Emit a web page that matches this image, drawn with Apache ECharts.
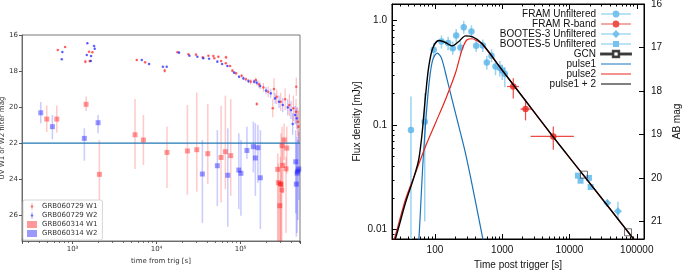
<!DOCTYPE html>
<html lang="en">
<head>
<meta charset="UTF-8">
<title>GRB light curves</title>
<script src="https://cdn.jsdelivr.net/npm/echarts@6/dist/echarts.min.js"></script>
</head>
<body style="margin:0">
<div id="main" style="width:685px;height:271px;"></div>
<script>
// ---- left panel: UVOT magnitudes ----
// [time s, mag, err]
const w1_060729 = [[667,16.83,0.05],[815,16.67,0.05],[1572,16.93,0.05],[1721,16.96,0.05],[1420,17.48,0.1],[1600,17.45,0.05],
  [5810,17.39,0.05],[7300,17.52,0.05],[12500,17.98,0.12],[17700,16.96,0.04],[23900,17.07,0.04],[29500,17.09,0.04],
  [35500,17.24,0.04],[41400,17.15,0.04],[47400,17.17,0.05],[48700,17.29,0.05],[54400,17.21,0.05],[67200,17.24,0.1],
  [58600,17.44,0.05],[66700,17.57,0.06],[75000,17.72,0.06],[79800,17.98,0.08],[88400,18.13,0.08],[103000,18.26,0.1],
  [116000,18.46,0.12],[132000,18.59,0.15],[152000,18.5,0.15],[165000,18.74,0.2],[187000,18.91,0.25],[213000,19.15,0.3],
  [156000,19.83,0.1],[270000,19.43,0.4],[242000,20.07,0.5],[301000,19.71,0.5],[339000,19.57,0.6],[381000,19.89,0.6],
  [425000,20.07,0.7],[458000,20.26,0.7],[480000,20.82,0.8],[488000,21.09,0.9],[250000,19.0,0.6],[460000,18.87,0.5]];
const w2_060729 = [[756,16.94,0.05],[744,17.35,0.05],[1500,16.46,0.05],[1803,16.61,0.05],[1837,16.76,0.05],[1476,17.11,0.05],
  [1660,17.17,0.05],[1648,17.44,0.05],[6670,17.39,0.05],[8140,17.61,0.05],[11900,17.76,0.05],[13200,17.76,0.05],
  [18500,16.98,0.04],[24600,17.15,0.04],[30600,17.21,0.04],[36000,17.29,0.04],[42200,17.32,0.04],[52900,17.48,0.05],
  [60300,17.61,0.05],[69700,17.72,0.06],[83700,18.09,0.07],[96000,18.32,0.08],[108000,18.41,0.1],[124000,18.56,0.12],
  [145000,18.59,0.12],[156000,18.65,0.15],[171000,18.83,0.18],[201000,19.09,0.2],[229000,19.24,0.25],[258000,19.52,0.3],
  [287000,19.71,0.35],[318000,19.89,0.4],[365000,20.02,0.45],[399000,20.17,0.5],[446000,20.44,0.5],[467000,20.63,0.6],
  [418000,20.94,0.6]];
// [time s, mag, bright end, faint end]
const w1_060314 = [[493,20.67,19.91,21.39],[649,20.67,19.91,21.43],[1448,19.85,19.41,20.22],[2086,23.74,21.83,26.74],
  [5540,21.54,19.55,23.44],[6970,21.83,20.44,23.22],[13300,22.52,21.09,24.5],[23300,22.44,19.89,24.87],
  [30100,22.37,19.19,24.7],[40700,22.59,19.83,24.28],[58600,22.8,19.93,25.3],[65900,22.48,19.37,24.56],
  [76400,22.7,19.55,24.93],[277000,23.46,22.57,27.5],[282000,24.2,23.13,27.5],[298000,24.26,22.76,27.5],
  [303000,24.3,21.46,27.5],[309000,24.61,23.31,27.5],[293000,25.48,24.8,27.5],[312000,22.15,21.09,23.26],
  [330000,21.83,20.91,22.94],[318000,23.24,22.02,24.8],[355000,22.28,21.09,23.69],[348000,23.43,22.76,27.0]];
const w2_060314 = [[418,20.32,19.72,20.91],[575,21.09,20.44,21.79],[1381,21.74,21.18,22.98],[2013,20.87,20.44,21.46],
  [35100,23.72,21.83,26.44],[52900,23.26,21.28,25.5],[70400,23.79,21.18,26.65],[95300,23.5,21.46,25.67],
  [101000,23.68,21.83,26.04],[119000,22.41,21.09,22.89],[142000,22.2,20.81,23.63],[150000,22.83,20.9,24.93],
  [161000,22.26,21.0,24.2],[172000,23.93,21.28,26.78],[454000,23.04,21.28,25.91],[471000,23.67,21.65,27.0],
  [493000,23.44,21.37,25.17],[461000,24.28,22.02,27.2],[480000,23.56,21.83,26.28]];
const limitMag = 22;
const leftTime = [250, 510000];

// ---- right panel: optical flux (mJy) ----
// [time s, flux, low, high]
const framUnf = [[44,0.090,0.005,0.188],[70.5,0.108,0.012,0.203],[96,0.525,0.45,0.61],[125,0.63,0.54,0.72],
  [157,0.61,0.52,0.70],[184,0.545,0.47,0.63],[207,0.72,0.62,0.83],[239,0.552,0.47,0.64],[268,0.865,0.75,0.99],
  [349,0.785,0.68,0.90],[410,0.573,0.50,0.66],[514,0.577,0.50,0.66],[590,0.397,0.34,0.46],[693,0.46,0.40,0.53],
  [795,0.364,0.30,0.42],[921,0.351,0.29,0.41],[1000,0.333,0.27,0.38],[1094,0.31,0.23,0.36]];
// [time s, flux, low, high, t low, t high]
const framR = [[1459,0.234,0.18,0.28,1180,1770],[2222,0.1425,0.111,0.175,1870,2690],[5740,0.078,0.058,0.097,2640,11600]];
const bootes3 = [[36500,0.018,0.0165,0.0195],[52500,0.015,0.0125,0.0185]];
const bootes5 = [[13330,0.0329],[14600,0.0294],[19450,0.0313],[20600,0.0256]];
const gcn = [[16400,0.0336],[74000,0.00945]];
const pulse1 = [[57,0.007],[60.3,0.0134],[65.8,0.0403],[73.9,0.121],[82.8,0.271],[92.7,0.421],[108,0.489],[125,0.437],
  [152,0.271],[202,0.13],[284,0.054],[378,0.0224],[514,0.0082],[540,0.007]];
const pulse2 = [[23,0.0072],[25.8,0.0088],[36.4,0.0194],[51.3,0.0348],[72.3,0.0626],[102,0.105],[143,0.175],[202,0.315],
  [254,0.53],[300,0.655],[357,0.67],[420,0.64],[504,0.597],[1000,0.335],[2000,0.187],[5740,0.077],[16400,0.0328],
  [89000,0.0082],[100000,0.0074]];
const pulseSum = [[23,0.0072],[25.8,0.0082],[36.4,0.018],[48.4,0.0313],[57.4,0.0468],[64.5,0.084],[72.3,0.188],[81,0.364],
  [92.7,0.545],[114,0.644],[143,0.617],[180,0.573],[226,0.63],[284,0.714],[357,0.703],[504,0.599],[1000,0.335],
  [2000,0.187],[5740,0.077],[16400,0.0328],[89000,0.0082],[100000,0.0074]];

const chart = echarts.init(document.getElementById('main'));

const isPow10 = v => Math.abs(Math.log10(v) - Math.round(Math.log10(v))) < 1e-6;
const sup = {'2': '\u00b2', '3': '\u00b3', '4': '\u2074', '5': '\u2075', '6': '\u2076'};

function vbar(color, width, sym) {
  return function (params, api) {
    const t = api.value(0), y = api.value(1);
    const lo = sym ? y - api.value(2) : api.value(2);
    const hi = sym ? y + api.value(2) : api.value(3);
    const a = api.coord([t, lo]), b = api.coord([t, hi]);
    return {type: 'line', shape: {x1: a[0], y1: a[1], x2: b[0], y2: b[1]}, style: {stroke: color, lineWidth: width}};
  };
}
function xybar(color, width) {
  return function (params, api) {
    const t = api.value(0), y = api.value(1);
    const a = api.coord([t, api.value(2)]), b = api.coord([t, api.value(3)]);
    const c = api.coord([api.value(4), y]), d = api.coord([api.value(5), y]);
    return {type: 'group', children: [
      {type: 'line', shape: {x1: a[0], y1: a[1], x2: b[0], y2: b[1]}, style: {stroke: color, lineWidth: width}},
      {type: 'line', shape: {x1: c[0], y1: c[1], x2: d[0], y2: d[1]}, style: {stroke: color, lineWidth: width}}
    ]};
  };
}

const mpl = {fontFamily: 'DejaVu Sans', fontSize: 7, color: '#333'};
const gp = {fontFamily: 'Liberation Sans', fontSize: 10, color: '#111'};
const lightBlue = '#56b4e9';
const icon = {
  dotBar: 'path://M4.6 0H5.4V3.14A1.9 1.9 0 0 1 5.4 6.86V10H4.6V6.86A1.9 1.9 0 0 1 4.6 3.14Z',
  lineCircle: 'path://M0 4.5H11.536A3.5 3.5 0 0 1 18.464 4.5H30V5.5H18.464A3.5 3.5 0 0 1 11.536 5.5H0Z',
  lineDiamond: 'path://M0 4.5H11.5L15 1L18.5 4.5H30V5.5H18.5L15 9L11.5 5.5H0Z',
  lineSquare: 'path://M0 4.5H12V2H18V4.5H30V5.5H18V8H12V5.5H0Z',
  lineOpenSquare: 'path://M0 4.5H11.8V5.5H0ZM18.2 4.5H30V5.5H18.2ZM11.8 1.8H18.2V8.2H11.8ZM12.4 2.4V7.6H17.6V2.4Z',
  line: 'path://M0 0.5H30V1.5H0Z'
};

const option = {
  animation: false,
  grid: [
    {left: 22, top: 35, width: 278, height: 206, show: true, borderColor: '#555', borderWidth: 0.8, outerBoundsMode: 'none'},
    {left: 392, top: 4, width: 252, height: 235, show: true, borderColor: '#000', borderWidth: 1, outerBoundsMode: 'none'}
  ],
  legend: [
    {
      orient: 'vertical', left: 23, top: 200, padding: [3, 5, 3, 4], itemGap: 2, itemWidth: 10, itemHeight: 7,
      borderColor: '#ccc', borderWidth: 0.8, borderRadius: 2, backgroundColor: '#fff',
      textStyle: mpl,
      data: [
        {name: 'GRB060729 W1', icon: icon.dotBar, itemStyle: {color: 'rgba(255,0,0,0.7)'}},
        {name: 'GRB060729 W2', icon: icon.dotBar, itemStyle: {color: 'rgba(0,0,255,0.7)'}},
        {name: 'GRB060314 W1', icon: 'rect', itemStyle: {color: 'rgba(255,0,0,0.5)'}},
        {name: 'GRB060314 W2', icon: 'rect', itemStyle: {color: 'rgba(0,0,255,0.5)'}}
      ]
    },
    {
      orient: 'vertical', right: 53, top: 9, padding: 0, itemGap: 0, itemWidth: 30, itemHeight: 10, align: 'right',
      textStyle: gp,
      data: [
        {name: 'FRAM Unfiltered', icon: icon.lineCircle, itemStyle: {color: lightBlue}},
        {name: 'FRAM R-band', icon: icon.lineCircle, itemStyle: {color: '#e8251e'}},
        {name: 'BOOTES-3 Unfiltered', icon: icon.lineDiamond, itemStyle: {color: lightBlue}},
        {name: 'BOOTES-5 Unfiltered', icon: icon.lineSquare, itemStyle: {color: lightBlue}},
        {name: 'GCN', icon: icon.lineOpenSquare, itemStyle: {color: '#000'}},
        {name: 'pulse1', icon: icon.line, itemStyle: {color: '#1a72b8'}},
        {name: 'pulse2', icon: icon.line, itemStyle: {color: '#e8251e'}},
        {name: 'pulse1 + 2', icon: icon.line, itemStyle: {color: '#000'}}
      ]
    }
  ],
  xAxis: [
    {
      type: 'log', gridIndex: 0, min: leftTime[0], max: leftTime[1],
      name: 'time from trig [s]', nameLocation: 'middle', nameGap: 14, nameTextStyle: mpl,
      axisLine: {show: true, lineStyle: {color: '#555', width: 0.8}},
      axisTick: {show: true, length: 3, lineStyle: {color: '#555'}},
      minorTick: {show: true, splitNumber: 9, length: 1.8, lineStyle: {color: '#555'}},
      splitLine: {show: false},
      axisLabel: Object.assign({margin: 5, formatter: v => isPow10(v) ? '10' + sup[Math.round(Math.log10(v))] : ''}, mpl)
    },
    {
      type: 'log', gridIndex: 1, min: 23, max: 128000,
      name: 'Time post trigger [s]', nameLocation: 'middle', nameGap: 20, nameTextStyle: gp,
      axisLine: {show: true, lineStyle: {color: '#000'}},
      axisTick: {show: true, inside: true, length: 5, lineStyle: {color: '#000'}},
      minorTick: {show: true, splitNumber: 9, length: 2.5, lineStyle: {color: '#000'}},
      splitLine: {show: false},
      axisLabel: Object.assign({margin: 6, formatter: v => isPow10(v) ? String(Math.round(v)) : ''}, gp)
    },
    {
      type: 'log', gridIndex: 1, min: 23, max: 128000, position: 'top',
      axisLine: {show: true, lineStyle: {color: '#000'}},
      axisTick: {show: true, inside: true, length: 5, lineStyle: {color: '#000'}},
      minorTick: {show: true, splitNumber: 9, length: 2.5, lineStyle: {color: '#000'}},
      splitLine: {show: false},
      axisLabel: {show: false}
    }
  ],
  yAxis: [
    {
      type: 'value', gridIndex: 0, inverse: true, min: 16, max: 27.44, interval: 2,
      name: 'UV W1 or W2 filter mag', nameLocation: 'middle', nameGap: 15, nameTextStyle: mpl,
      axisLine: {show: true, lineStyle: {color: '#555', width: 0.8}},
      axisTick: {show: true, length: 3, lineStyle: {color: '#555'}},
      splitLine: {show: false},
      axisLabel: Object.assign({margin: 4, showMaxLabel: false}, mpl)
    },
    {
      type: 'log', gridIndex: 1, min: 0.00815, max: 1.44,
      name: 'Flux density [mJy]', nameLocation: 'middle', nameGap: 30, nameTextStyle: gp,
      axisLine: {show: true, lineStyle: {color: '#000'}},
      axisTick: {show: true, inside: true, length: 5, lineStyle: {color: '#000'}},
      minorTick: {show: true, splitNumber: 9, length: 2.5, lineStyle: {color: '#000'}},
      splitLine: {show: false},
      axisLabel: Object.assign({margin: 5, formatter: v => {
        if (!isPow10(v)) return '';
        const e = Math.round(Math.log10(v));
        return e === 0 ? '1.0' : v.toFixed(-e);
      }}, gp)
    },
    {
      type: 'value', gridIndex: 1, position: 'right', inverse: true, min: 16, max: 21.4,
      name: 'AB mag', nameLocation: 'middle', nameGap: 28, nameTextStyle: gp,
      axisLine: {show: true, lineStyle: {color: '#000'}},
      axisTick: {show: true, inside: true, length: 5, lineStyle: {color: '#000'}},
      splitLine: {show: false},
      axisLabel: Object.assign({margin: 7, showMaxLabel: false}, gp)
    }
  ],
  series: [
    // left panel
    {name: 'GRB060314 W1 err', type: 'custom', xAxisIndex: 0, yAxisIndex: 0, clip: true, silent: true,
      renderItem: vbar('rgba(255,0,0,0.2)', 1.6, false), data: w1_060314, z: 1},
    {name: 'GRB060314 W2 err', type: 'custom', xAxisIndex: 0, yAxisIndex: 0, clip: true, silent: true,
      renderItem: vbar('rgba(0,0,255,0.2)', 1.6, false), data: w2_060314, z: 1},
    {name: 'GRB060729 W1 err', type: 'custom', xAxisIndex: 0, yAxisIndex: 0, clip: true, silent: true,
      renderItem: vbar('rgba(255,0,0,0.3)', 1, true), data: w1_060729, z: 2},
    {name: 'GRB060729 W2 err', type: 'custom', xAxisIndex: 0, yAxisIndex: 0, clip: true, silent: true,
      renderItem: vbar('rgba(0,0,255,0.3)', 1, true), data: w2_060729, z: 2},
    {name: 'limit', type: 'line', xAxisIndex: 0, yAxisIndex: 0, symbol: 'none', silent: true,
      lineStyle: {color: '#1f77b4', width: 1.3}, data: leftTime.map(t => [t, limitMag]), z: 3},
    {name: 'GRB060314 W1', type: 'scatter', xAxisIndex: 0, yAxisIndex: 0, symbol: 'rect', symbolSize: 5,
      itemStyle: {color: 'rgba(255,0,0,0.5)'}, data: w1_060314.map(d => [d[0], d[1]]), z: 3},
    {name: 'GRB060314 W2', type: 'scatter', xAxisIndex: 0, yAxisIndex: 0, symbol: 'rect', symbolSize: 5,
      itemStyle: {color: 'rgba(0,0,255,0.5)'}, data: w2_060314.map(d => [d[0], d[1]]), z: 3},
    {name: 'GRB060729 W1', type: 'scatter', xAxisIndex: 0, yAxisIndex: 0, symbolSize: 2.6,
      itemStyle: {color: 'rgba(255,0,0,0.7)'}, data: w1_060729.map(d => [d[0], d[1]]), z: 4},
    {name: 'GRB060729 W2', type: 'scatter', xAxisIndex: 0, yAxisIndex: 0, symbolSize: 2.6,
      itemStyle: {color: 'rgba(0,0,255,0.7)'}, data: w2_060729.map(d => [d[0], d[1]]), z: 4},
    // right panel
    {name: 'FRAM Unfiltered err', type: 'custom', xAxisIndex: 1, yAxisIndex: 1, clip: true, silent: true,
      renderItem: vbar('#9bd2f0', 1.5, false), data: framUnf, z: 2},
    {name: 'BOOTES-3 err', type: 'custom', xAxisIndex: 1, yAxisIndex: 1, clip: true, silent: true,
      renderItem: vbar('#9bd2f0', 1.5, false), data: bootes3, z: 2},
    {name: 'FRAM R-band err', type: 'custom', xAxisIndex: 1, yAxisIndex: 1, clip: true, silent: true,
      renderItem: xybar('#ee4a44', 1.2), data: framR, z: 2},
    {name: 'FRAM Unfiltered', type: 'scatter', xAxisIndex: 1, yAxisIndex: 1, symbolSize: 6.5,
      itemStyle: {color: lightBlue}, data: framUnf.map(d => [d[0], d[1]]), z: 3},
    {name: 'FRAM R-band', type: 'scatter', xAxisIndex: 1, yAxisIndex: 1, symbolSize: 6.5,
      itemStyle: {color: '#e8251e'}, data: framR.map(d => [d[0], d[1]]), z: 3},
    {name: 'BOOTES-3 Unfiltered', type: 'scatter', xAxisIndex: 1, yAxisIndex: 1, symbol: 'diamond', symbolSize: 8,
      itemStyle: {color: lightBlue}, data: bootes3.map(d => [d[0], d[1]]), z: 3},
    {name: 'BOOTES-5 Unfiltered', type: 'scatter', xAxisIndex: 1, yAxisIndex: 1, symbol: 'rect', symbolSize: 6,
      itemStyle: {color: lightBlue}, data: bootes5, z: 3},
    {name: 'GCN', type: 'scatter', xAxisIndex: 1, yAxisIndex: 1, symbol: 'rect', symbolSize: 7,
      itemStyle: {color: 'rgba(0,0,0,0)', borderColor: '#222', borderWidth: 0.8}, data: gcn, z: 5},
    {name: 'pulse1', type: 'line', xAxisIndex: 1, yAxisIndex: 1, showSymbol: false, symbol: 'none', smooth: 0.3,
      lineStyle: {color: '#1a72b8', width: 1.2}, itemStyle: {color: '#1a72b8'}, data: pulse1, z: 4},
    {name: 'pulse2', type: 'line', xAxisIndex: 1, yAxisIndex: 1, showSymbol: false, symbol: 'none', smooth: 0.3,
      lineStyle: {color: '#e8251e', width: 1.2}, itemStyle: {color: '#e8251e'}, data: pulse2, z: 4},
    {name: 'pulse1 + 2', type: 'line', xAxisIndex: 1, yAxisIndex: 1, showSymbol: false, symbol: 'none', smooth: 0.3,
      lineStyle: {color: '#000', width: 1.4}, itemStyle: {color: '#000'}, data: pulseSum, z: 4}
  ]
};
chart.setOption(option);
</script>
</body>
</html>
